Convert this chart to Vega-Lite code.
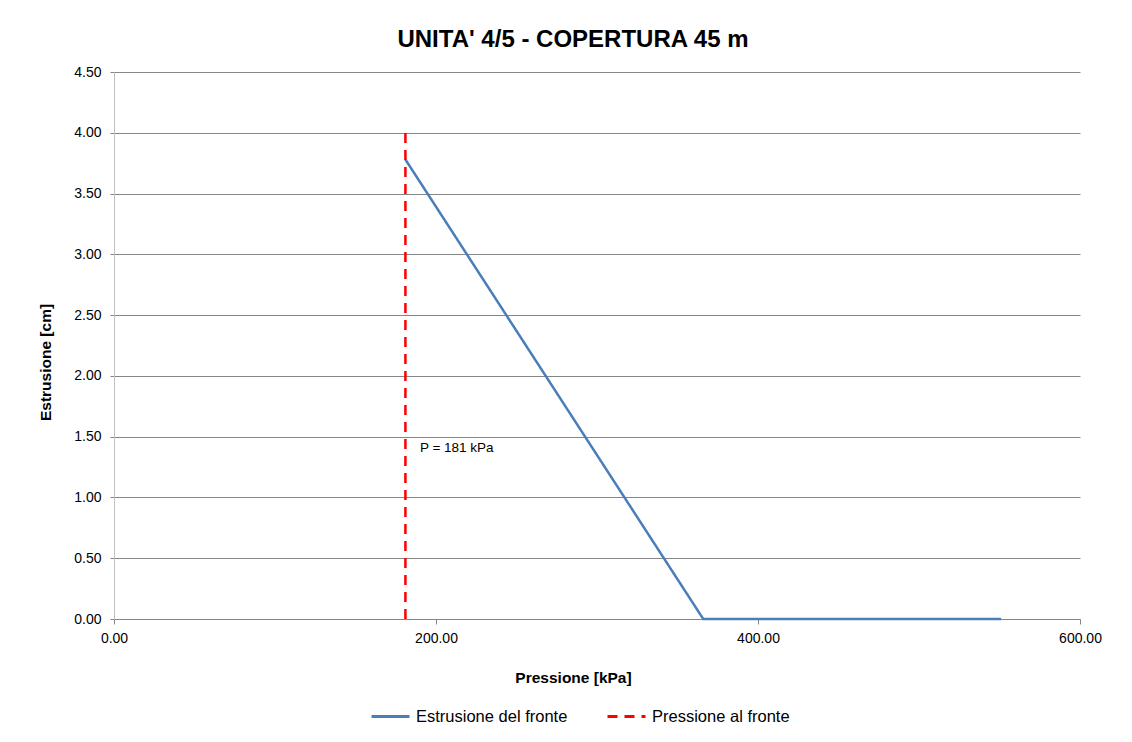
{
  "$schema": "https://vega.github.io/schema/vega-lite/v6.json",
  "width": 966,
  "height": 547,
  "autosize": "none",
  "padding": {"left": 114, "top": 72, "right": 52, "bottom": 123},
  "background": "white",
  "title": {
    "text": "UNITA' 4/5 - COPERTURA 45 m",
    "font": "Liberation Sans",
    "fontSize": 24,
    "fontWeight": "bold",
    "color": "#000000",
    "anchor": "middle",
    "dx": -24,
    "offset": 13
  },
  "config": {
    "view": {"stroke": null},
    "font": "Liberation Sans"
  },
  "datasets": {
    "lines": [
      {"p": 181, "e": 3.78, "series": "Estrusione del fronte", "ord": 1},
      {"p": 366, "e": 0, "series": "Estrusione del fronte", "ord": 2},
      {"p": 551, "e": 0, "series": "Estrusione del fronte", "ord": 3},
      {"p": 181, "e": 0, "series": "Pressione al fronte", "ord": 1},
      {"p": 181, "e": 4.0, "series": "Pressione al fronte", "ord": 2}
    ],
    "labels": [
      {"p": 190, "e": 1.41, "label": "P = 181 kPa"}
    ]
  },
  "layer": [
    {
      "data": {"name": "lines"},
      "mark": {"type": "line", "strokeWidth": 2.5},
      "encoding": {
        "x": {
          "field": "p", "type": "quantitative",
          "scale": {"domain": [0, 600], "nice": false, "zero": false},
          "axis": {
            "values": [0, 200, 400, 600],
            "format": ".2f",
            "grid": false,
            "title": "Pressione [kPa]",
            "titleFont": "Liberation Sans",
            "titleFontSize": 15.5,
            "titleFontWeight": "bold",
            "titleColor": "#000000",
            "titleX": 459,
            "titleY": 51,
            "titleBaseline": "top",
            "domainColor": "#868686",
            "tickColor": "#868686",
            "tickSize": 5,
            "labelFont": "Liberation Sans",
            "labelFontSize": 14,
            "labelColor": "#000000",
            "labelPadding": 7,
            "labelFlush": false
          }
        },
        "y": {
          "field": "e", "type": "quantitative",
          "scale": {"domain": [0, 4.5], "nice": false},
          "axis": {
            "values": [0, 0.5, 1, 1.5, 2, 2.5, 3, 3.5, 4, 4.5],
            "format": ".2f",
            "grid": true,
            "gridColor": "#868686",
            "gridWidth": 1,
            "title": "Estrusione [cm]",
            "titleFont": "Liberation Sans",
            "titleFontSize": 15.5,
            "titleFontWeight": "bold",
            "titleColor": "#000000",
            "titleX": -69,
            "titleY": 290,
            "titleAlign": "center",
            "titleBaseline": "middle",
            "domainColor": "#bfbfbf",
            "tickColor": "#868686",
            "tickSize": 4,
            "labelFont": "Liberation Sans",
            "labelFontSize": 14,
            "labelColor": "#000000",
            "labelPadding": 9,
            "labelFlush": false
          }
        },
        "order": {"field": "ord", "type": "quantitative"},
        "color": {
          "field": "series", "type": "nominal",
          "scale": {"domain": ["Estrusione del fronte", "Pressione al fronte"], "range": ["#4a7ebb", "#ff0000"]},
          "legend": {
            "title": null,
            "orient": "none",
            "direction": "horizontal",
            "legendX": 256,
            "legendY": 624,
            "symbolType": "stroke",
            "symbolSize": 1444,
            "symbolStrokeWidth": 3,
            "labelFont": "Liberation Sans",
            "labelFontSize": 16.5,
            "labelColor": "#000000",
            "labelOffset": 5,
            "columnPadding": 33
          }
        },
        "strokeDash": {
          "field": "series", "type": "nominal",
          "scale": {"domain": ["Estrusione del fronte", "Pressione al fronte"], "range": [[1, 0], [10, 7]]},
          "legend": null
        }
      }
    },
    {
      "data": {"name": "labels"},
      "mark": {"type": "text", "align": "left", "baseline": "middle", "fontSize": 13.5, "font": "Liberation Sans", "color": "#000000"},
      "encoding": {
        "x": {"field": "p", "type": "quantitative"},
        "y": {"field": "e", "type": "quantitative"},
        "text": {"field": "label", "type": "nominal"}
      }
    }
  ]
}
